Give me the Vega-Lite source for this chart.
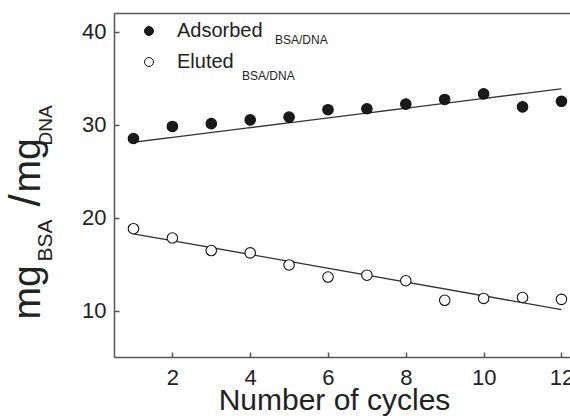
{
  "$schema": "https://vega.github.io/schema/vega-lite/v6.json",
  "width": 456,
  "height": 344,
  "autosize": {"type": "none"},
  "padding": {"left": 114, "top": 13, "right": 0, "bottom": 59},
  "background": "white",
  "config": {
    "view": {"stroke": null},
    "font": "Liberation Sans",
    "axis": {"grid": false, "labelFont": "Liberation Sans", "titleFont": "Liberation Sans", "titleFontWeight": "normal", "titleColor": "#222", "labelColor": "#222", "domainColor": "#555", "tickColor": "#555", "domainWidth": 1.5, "tickWidth": 1.5},
    "legend": {"labelFont": "Liberation Sans", "labelColor": "#222"}
  },
  "datasets": {
    "obs": [
      {"cycle": 1, "value": 28.5, "series": "Adsorbed"},
      {"cycle": 2, "value": 29.8, "series": "Adsorbed"},
      {"cycle": 3, "value": 30.1, "series": "Adsorbed"},
      {"cycle": 4, "value": 30.5, "series": "Adsorbed"},
      {"cycle": 5, "value": 30.8, "series": "Adsorbed"},
      {"cycle": 6, "value": 31.6, "series": "Adsorbed"},
      {"cycle": 7, "value": 31.7, "series": "Adsorbed"},
      {"cycle": 8, "value": 32.2, "series": "Adsorbed"},
      {"cycle": 9, "value": 32.7, "series": "Adsorbed"},
      {"cycle": 10, "value": 33.3, "series": "Adsorbed"},
      {"cycle": 11, "value": 31.9, "series": "Adsorbed"},
      {"cycle": 12, "value": 32.5, "series": "Adsorbed"},
      {"cycle": 1, "value": 18.8, "series": "Eluted"},
      {"cycle": 2, "value": 17.8, "series": "Eluted"},
      {"cycle": 3, "value": 16.45, "series": "Eluted"},
      {"cycle": 4, "value": 16.2, "series": "Eluted"},
      {"cycle": 5, "value": 14.9, "series": "Eluted"},
      {"cycle": 6, "value": 13.6, "series": "Eluted"},
      {"cycle": 7, "value": 13.8, "series": "Eluted"},
      {"cycle": 8, "value": 13.2, "series": "Eluted"},
      {"cycle": 9, "value": 11.1, "series": "Eluted"},
      {"cycle": 10, "value": 11.3, "series": "Eluted"},
      {"cycle": 11, "value": 11.4, "series": "Eluted"},
      {"cycle": 12, "value": 11.2, "series": "Eluted"}
    ],
    "fitA": [
      {"cycle": 1, "value": 28.1, "series": "Adsorbed"},
      {"cycle": 12, "value": 33.85, "series": "Adsorbed"}
    ],
    "fitE": [
      {"cycle": 1, "value": 18.25, "series": "Eluted"},
      {"cycle": 12, "value": 10.1, "series": "Eluted"}
    ]
  },
  "layer": [
    {
      "data": {"name": "fitA"},
      "mark": {"type": "line", "strokeWidth": 1.3, "color": "#333"},
      "encoding": {
        "x": {"field": "cycle", "type": "quantitative", "scale": {"domain": [0.5, 12.22], "nice": false, "zero": false}, "axis": null},
        "y": {"field": "value", "type": "quantitative", "scale": {"domain": [5, 42], "nice": false, "zero": false},
          "axis": {"orient": "left", "domain": false, "ticks": false, "labels": false, "title": "BSA", "titleFontSize": 21, "titleAngle": 270, "titleX": -63, "titleY": 227, "titleAlign": "center", "titleBaseline": "alphabetic"}},
        "strokeDash": {"field": "series", "type": "nominal", "scale": {"domain": ["Adsorbed"], "range": [[1, 0]]},
          "legend": {"orient": "none", "legendX": 149, "legendY": 21, "title": null, "labelExpr": "'BSA/DNA'", "labelFontSize": 12, "symbolOpacity": 0, "symbolSize": 1, "symbolStrokeWidth": 0, "labelOffset": 0, "padding": 0}}
      }
    },
    {
      "data": {"name": "fitE"},
      "mark": {"type": "line", "strokeWidth": 1.3, "color": "#333"},
      "encoding": {
        "x": {"field": "cycle", "type": "quantitative", "scale": {"domain": [0.5, 12.22], "nice": false, "zero": false},
          "axis": {"orient": "top", "ticks": false, "labels": false, "title": "DNA", "titleFontSize": 19, "titleAngle": 270, "titleX": -63, "titleY": 112, "titleAlign": "center", "titleBaseline": "alphabetic"}},
        "y": {"field": "value", "type": "quantitative", "scale": {"domain": [5, 42], "nice": false, "zero": false},
          "axis": {"orient": "left", "domain": false, "ticks": false, "labels": false, "title": "/", "titleFontSize": 44, "titleAngle": 270, "titleX": -75, "titleY": 187, "titleAlign": "center", "titleBaseline": "alphabetic"}},
        "stroke": {"field": "series", "type": "nominal", "scale": {"domain": ["Eluted"], "range": ["#333333"]},
          "legend": {"orient": "none", "legendX": 116, "legendY": 57, "title": null, "labelExpr": "'BSA/DNA'", "labelFontSize": 12, "symbolOpacity": 0, "symbolSize": 1, "symbolStrokeWidth": 0, "labelOffset": 0, "padding": 0}}
      }
    },
    {
      "data": {"name": "fitE"},
      "mark": {"type": "line", "opacity": 0},
      "encoding": {
        "x": {"field": "cycle", "type": "quantitative", "scale": {"domain": [0.5, 12.22], "nice": false, "zero": false}, "axis": null},
        "y": {"field": "value", "type": "quantitative", "scale": {"domain": [5, 42], "nice": false, "zero": false},
          "axis": {"orient": "left", "domain": false, "ticks": false, "labels": false, "title": "mg", "titleFontSize": 39, "titleAngle": 270, "titleX": -75, "titleY": 152, "titleAlign": "center", "titleBaseline": "alphabetic"}}
      }
    },
    {
      "data": {"name": "obs"},
      "mark": {"type": "point", "shape": "circle", "filled": true, "size": 110, "stroke": "#111", "strokeWidth": 1.1, "opacity": 1},
      "encoding": {
        "x": {"field": "cycle", "type": "quantitative", "scale": {"domain": [0.5, 12.22], "nice": false, "zero": false},
          "axis": {"orient": "bottom", "values": [2, 4, 6, 8, 10, 12], "tickSize": -5, "labelFontSize": 22, "labelPadding": 15, "title": "Number of cycles", "titleFontSize": 30, "titleX": 220, "titleY": 52, "titleAlign": "center", "titleBaseline": "alphabetic"}},
        "y": {"field": "value", "type": "quantitative", "scale": {"domain": [5, 42], "nice": false, "zero": false},
          "axis": {"orient": "left", "values": [10, 20, 30, 40], "tickSize": -5, "labelFontSize": 22, "labelPadding": 13, "title": "mg", "titleFontSize": 39, "titleAngle": 270, "titleX": -75, "titleY": 279, "titleAlign": "center", "titleBaseline": "alphabetic"}},
        "fill": {"field": "series", "type": "nominal", "scale": {"domain": ["Adsorbed", "Eluted"], "range": ["#1a1a1a", "#ffffff"]},
          "legend": {"orient": "none", "legendX": 25, "legendY": 8, "direction": "vertical", "title": null, "symbolType": "circle", "symbolSize": 80, "symbolStrokeColor": "#111", "symbolStrokeWidth": 1, "labelFontSize": 20, "labelOffset": 18, "rowPadding": 11, "padding": 0, "labelLimit": 300}}
      }
    }
  ],
  "resolve": {
    "scale": {"x": "independent", "y": "independent", "strokeDash": "independent", "stroke": "independent", "fill": "independent"},
    "axis": {"x": "independent", "y": "independent"}
  }
}
